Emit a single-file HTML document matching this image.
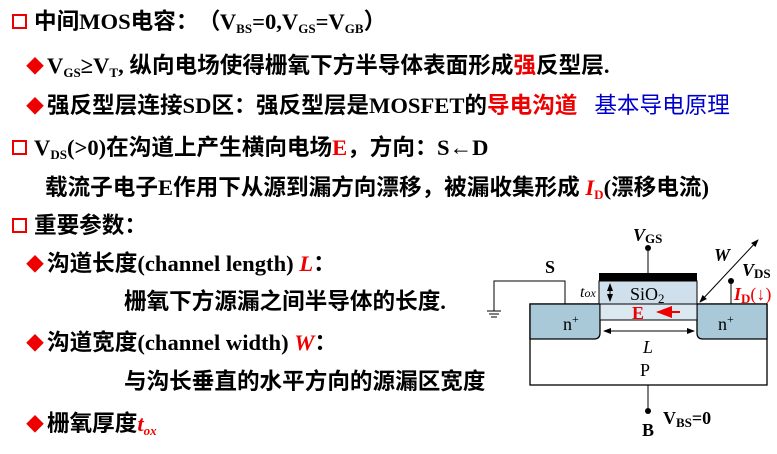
<!DOCTYPE html>
<html><head><meta charset="utf-8"><style>
body{margin:0;width:777px;height:454px;background:#fff;position:relative;overflow:hidden;font-family:"Liberation Serif","Noto Sans CJK SC",serif;font-weight:bold;font-size:22.6px;color:#000}
.l{position:absolute;white-space:nowrap;line-height:24px}
.sq{display:inline-block;width:11px;height:11px;border:2px solid #e00;margin-right:7px;vertical-align:0px}
.dm{color:#e00;font-size:18px;margin-right:3px}
sub{font-size:13px;vertical-align:-4px;line-height:0}
.r{color:#e00}
.b{color:#00c;font-weight:normal}
.w{display:inline-block;width:22px;text-align:center}
svg{position:absolute;left:0;top:0;font-weight:normal}
</style></head><body>
<div class="l" style="left:12px;top:10px"><span class="sq"></span>中间MOS电容<span class="w">：</span><span class="w">（</span>V<sub>BS</sub>=0,V<sub>GS</sub>=V<sub>GB</sub><span class="w">）</span></div>
<div class="l" style="left:26px;top:54px"><span class="dm">◆</span>V<sub>GS</sub>≥V<sub>T</sub>, 纵向电场使得栅氧下方半导体表面形成<span class="r">强</span>反型层.</div>
<div class="l" style="left:26px;top:94px"><span class="dm">◆</span>强反型层连接SD区<span class="w">：</span>强反型层是MOSFET的<span class="r">导电沟道</span>&nbsp;&nbsp;&nbsp;<span class="b">基本导电原理</span></div>
<div class="l" style="left:12px;top:136px"><span class="sq"></span>V<sub>DS</sub>(&gt;0)在沟道上产生横向电场<span class="r">E</span>，方向<span class="w">：</span>S←D</div>
<div class="l" style="left:45px;top:176px">载流子电子E作用下从源到漏方向漂移，被漏收集形成 <i class="r">I</i><sub class="r">D</sub>(漂移电流)</div>
<div class="l" style="left:12px;top:214px"><span class="sq"></span>重要参数<span class="w">：</span></div>
<div class="l" style="left:26px;top:252px"><span class="dm">◆</span>沟道长度(channel length) <i class="r">L</i><span class="w">：</span></div>
<div class="l" style="left:124px;top:290px">栅氧下方源漏之间半导体的长度.</div>
<div class="l" style="left:26px;top:331px"><span class="dm">◆</span>沟道宽度(channel width) <i class="r">W</i><span class="w">：</span></div>
<div class="l" style="left:124px;top:370px">与沟长垂直的水平方向的源漏区宽度</div>
<div class="l" style="left:26px;top:412px"><span class="dm">◆</span>栅氧厚度<i class="r">t<sub>ox</sub></i></div>
<svg width="777" height="454" font-family="Liberation Serif" font-size="18">
<defs><marker id="a" markerWidth="8" markerHeight="8" refX="7" refY="4" orient="auto"><path d="M0,1L8,4L0,7z" fill="#000"/></marker>
<marker id="ar" markerWidth="8" markerHeight="8" refX="7" refY="4" orient="auto"><path d="M0,1L8,4L0,7z" fill="#e00"/></marker></defs>
<rect x="530" y="304" width="237" height="81" fill="#fff" stroke="#000" stroke-width="1.3"/>
<path d="M530,304H600V333Q600,339 594,339H530Z" fill="#a9c9d9" stroke="#000" stroke-width="1.3"/>
<path d="M767,304H697V333Q697,339 703,339H767Z" fill="#a9c9d9" stroke="#000" stroke-width="1.3"/>
<rect x="600" y="304" width="97" height="16" fill="#dbe8f0" stroke="#000" stroke-width="1"/>
<rect x="599" y="281" width="98" height="23" fill="#cfe0ec" stroke="#000" stroke-width="1"/>
<rect x="599" y="273" width="98" height="8" fill="#000"/>
<line x1="648" y1="273" x2="648" y2="248" stroke="#000"/><circle cx="648" cy="248" r="3"/>
<text x="633" y="241" font-style="italic" font-weight="bold">V<tspan font-size="13" font-style="normal" dy="2">GS</tspan></text>
<polyline points="565,304 565,281 494,281 494,311" fill="none" stroke="#000"/>
<line x1="487" y1="311" x2="501" y2="311" stroke="#000"/><line x1="489" y1="314" x2="499" y2="314" stroke="#000"/><line x1="491" y1="317" x2="497" y2="317" stroke="#000"/>
<text x="545" y="273" font-weight="bold">S</text>
<text x="580" y="297" font-style="italic" font-size="16">t<tspan font-size="12">ox</tspan></text>
<line x1="610" y1="292" x2="610" y2="284" stroke="#000" marker-end="url(#a)"/><line x1="610" y1="292" x2="610" y2="301" stroke="#000" marker-end="url(#a)"/>
<text x="630" y="300">SiO<tspan font-size="13" dy="3">2</tspan></text>
<text x="632" y="319" fill="#e00" font-weight="bold">E</text>
<line x1="680" y1="312" x2="658" y2="312" stroke="#e00" stroke-width="2" marker-end="url(#ar)"/>
<text x="563" y="330">n<tspan font-size="12" dy="-7">+</tspan></text>
<text x="718" y="330">n<tspan font-size="12" dy="-7">+</tspan></text>
<line x1="650" y1="331" x2="604" y2="331" stroke="#000" marker-end="url(#a)"/><line x1="650" y1="331" x2="694" y2="331" stroke="#000" marker-end="url(#a)"/>
<text x="643" y="353" font-style="italic">L</text>
<text x="640" y="376">P</text>
<line x1="729" y1="271" x2="700" y2="302" stroke="#000" marker-end="url(#a)"/><line x1="729" y1="271" x2="758" y2="240" stroke="#000" marker-end="url(#a)"/>
<text x="714" y="261" font-style="italic" font-weight="bold">W</text>
<line x1="731" y1="281" x2="731" y2="304" stroke="#000"/><circle cx="731" cy="281" r="3"/>
<text x="742" y="276" font-style="italic" font-weight="bold">V<tspan font-size="13" font-style="normal" dy="2">DS</tspan></text>
<text x="734" y="300" fill="#e00" font-weight="bold"><tspan font-style="italic">I</tspan><tspan font-size="13" dy="3">D</tspan><tspan dy="-3" font-weight="normal">(↓)</tspan></text>
<line x1="648" y1="385" x2="648" y2="411" stroke="#000"/><circle cx="648" cy="411" r="3"/>
<text x="642" y="436" font-weight="bold">B</text>
<text x="663" y="424" font-weight="bold">V<tspan font-size="13" dy="3">BS</tspan><tspan dy="-3">=0</tspan></text>
</svg>
</body></html>
